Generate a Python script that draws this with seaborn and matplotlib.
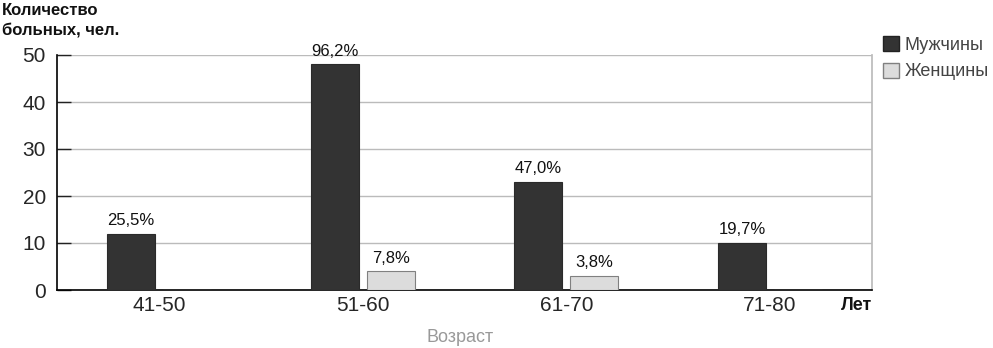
import matplotlib
matplotlib.use("Agg")
import matplotlib.pyplot as plt
import matplotlib.patches as mpatches
import seaborn as sns
import pandas as pd

age_groups = ["41-50", "51-60", "61-70", "71-80"]
men_counts = [12, 48, 23, 10]
women_counts = [0, 4, 3, 0]
men_labels = ["25,5%", "96,2%", "47,0%", "19,7%"]
women_labels = ["", "7,8%", "3,8%", ""]
series_names = ["Мужчины", "Женщины"]
y_ticks = [0, 10, 20, 30, 40, 50]

sns.set_theme(style="white")
plt.rcParams['font.family'] = ['Liberation Sans Narrow', 'Liberation Sans', 'DejaVu Sans']

df = pd.DataFrame({
    "age": age_groups * 2,
    "count": men_counts + women_counts,
    "sex": [series_names[0]] * 4 + [series_names[1]] * 4,
})

fig = plt.figure(figsize=(9.93, 3.48), dpi=100)
ax = fig.add_axes([57/993, 1-290/348, (872-57)/993, (290-55)/348])

colors = {"Мужчины": "#333333", "Женщины": "#dcdcdc"}
sns.barplot(data=df, x="age", y="count", hue="sex", order=age_groups,
            hue_order=series_names, palette=colors, width=0.55, gap=0.14,
            ax=ax, legend=False, zorder=3)

for i, cont in enumerate(ax.containers):
    for p in cont:
        if i == 0:
            p.set_edgecolor("#2a2a2a")
            p.set_linewidth(0.8)
        else:
            p.set_edgecolor("#808080")
            p.set_linewidth(0.8)
    labs = men_labels if i == 0 else women_labels
    ax.bar_label(cont, labels=labs, padding=4, fontsize=12, color="#111111")

ax.set_ylim(0, 50)
ax.set_yticks(y_ticks)
ax.yaxis.grid(True, color="#bbbbbb", linewidth=1, zorder=0)
ax.set_axisbelow(True)
ax.tick_params(axis="y", direction="in", length=10, width=1, color="#222222",
               labelsize=15, pad=8, left=True)
ax.tick_params(axis="x", length=0, labelsize=15, pad=4)
ax.set_xlabel("")
ax.set_ylabel("")
for s in ["top"]:
    ax.spines[s].set_visible(False)
ax.spines["right"].set_color("#bbbbbb")
ax.spines["left"].set_color("#000000")
ax.spines["bottom"].set_color("#000000")
ax.spines["left"].set_linewidth(1.2)
ax.spines["bottom"].set_linewidth(1.2)

fig.text(2/993, 1-3/348, "Количество\nбольных, чел.", ha="left", va="top",
         fontsize=12, fontweight="bold", linespacing=1.35, color="#111111")
fig.text(872/993, 1-306/348, "Лет", ha="right", va="center", fontsize=13,
         fontweight="bold", color="#111111")
fig.text(460/993, 1-338/348, "Возраст", ha="center", va="center", fontsize=13,
         color="#999999")

handles = [mpatches.Patch(facecolor="#333333", edgecolor="#222222", label=series_names[0]),
           mpatches.Patch(facecolor="#dcdcdc", edgecolor="#808080", label=series_names[1])]
leg = fig.legend(handles=handles, loc="upper left", bbox_to_anchor=(883/993, 1-36/348),
                 frameon=False, fontsize=13, handlelength=0.9, handleheight=0.9,
                 handletextpad=0.3, labelspacing=0.5, borderaxespad=0, borderpad=0)
for t in leg.get_texts():
    t.set_color("#444444")

fig.savefig("out.png", dpi=100)
